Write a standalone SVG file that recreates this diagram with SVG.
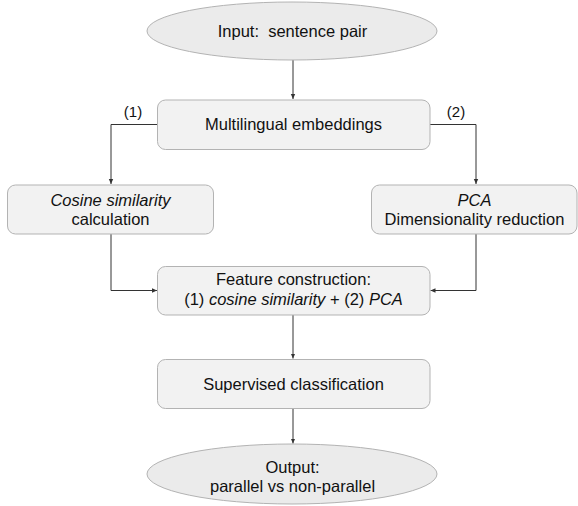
<svg xmlns="http://www.w3.org/2000/svg" width="578" height="506" viewBox="0 0 578 506">
<style>
.box{fill:#f2f2f2;stroke:#b3b3b3;stroke-width:1}
.ell{fill:#ebebeb;stroke:#b3b3b3;stroke-width:1}
.t{font-family:"Liberation Sans",Arial,sans-serif;font-size:16.5px;fill:#111;text-anchor:middle}
.lbl{font-family:"Liberation Sans",Arial,sans-serif;font-size:15px;fill:#111;text-anchor:middle}
.i{font-style:italic}
.c{fill:none;stroke:#333;stroke-width:1}
</style>
<defs>
<marker id="ah" markerWidth="6" markerHeight="6" refX="5" refY="3" orient="auto" markerUnits="userSpaceOnUse">
<path d="M0,0.8 L5,3 L0,5.2 Z" fill="#333"/>
</marker>
</defs>
<g id="connectors">
<path class="c" d="M293,60 V99" marker-end="url(#ah)"/>
<path class="c" d="M157,124.5 H111 V184" marker-end="url(#ah)"/>
<path class="c" d="M430,124.5 H476 V184" marker-end="url(#ah)"/>
<path class="c" d="M111,234 V290.5 H157" marker-end="url(#ah)"/>
<path class="c" d="M476,234 V290.5 H430.5" marker-end="url(#ah)"/>
<path class="c" d="M293,315 V358.5" marker-end="url(#ah)"/>
<path class="c" d="M293,408.5 V443.5" marker-end="url(#ah)"/>
<text class="lbl" x="133" y="117">(1)</text>
<text class="lbl" x="456" y="117">(2)</text>
</g>
<g id="input">
<ellipse class="ell" cx="292" cy="31" rx="145" ry="29"/>
<text class="t" x="292.5" y="37" xml:space="preserve" style="white-space:pre">Input:  sentence pair</text>
</g>
<g id="embeddings">
<rect class="box" x="157.5" y="100" width="272.5" height="49.5" rx="8"/>
<text class="t" x="293.5" y="130">Multilingual embeddings</text>
</g>
<g id="cosine">
<rect class="box" x="7.5" y="185" width="206" height="49" rx="8"/>
<text class="t i" x="110.5" y="206">Cosine similarity</text>
<text class="t" x="110.5" y="225">calculation</text>
</g>
<g id="pca">
<rect class="box" x="371.5" y="185" width="205.5" height="49" rx="8"/>
<text class="t i" x="474.5" y="206">PCA</text>
<text class="t" x="474.5" y="225">Dimensionality reduction</text>
</g>
<g id="feature">
<rect class="box" x="157.5" y="266.5" width="272.5" height="48.5" rx="8"/>
<text class="t" x="293.5" y="285">Feature construction:</text>
<text class="t" x="293.5" y="304.5">(1) <tspan class="i">cosine similarity</tspan> + (2) <tspan class="i">PCA</tspan></text>
</g>
<g id="classification">
<rect class="box" x="157.5" y="359.5" width="272.5" height="49" rx="8"/>
<text class="t" x="293.5" y="390">Supervised classification</text>
</g>
<g id="output">
<ellipse class="ell" cx="292" cy="474" rx="145" ry="30"/>
<text class="t" x="292.5" y="472.5">Output:</text>
<text class="t" x="292.5" y="491.5">parallel vs non-parallel</text>
</g>
</svg>
